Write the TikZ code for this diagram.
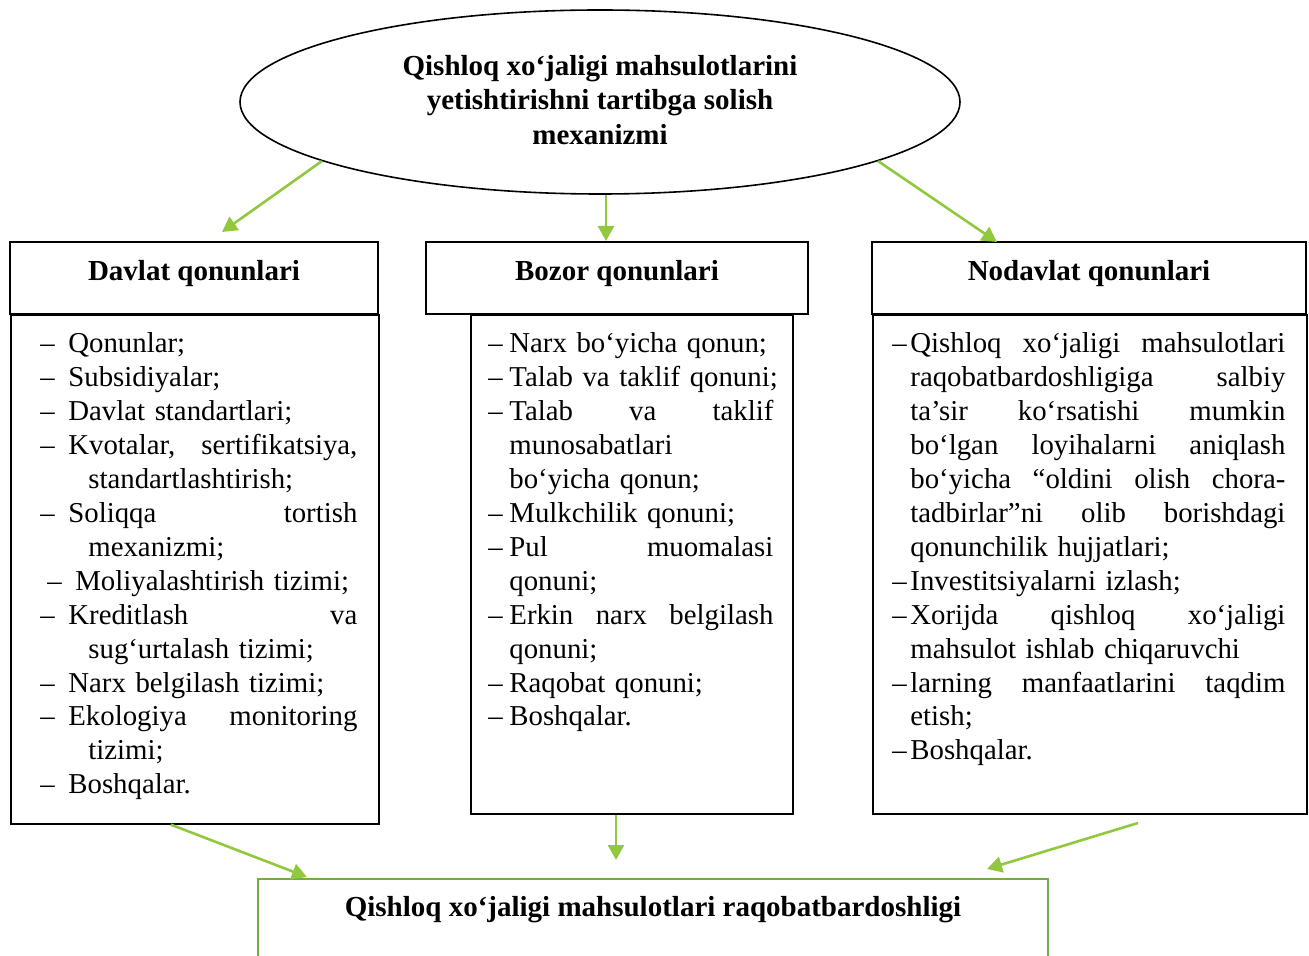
\documentclass[tikz,border=0pt]{standalone}
\usepackage{fontspec}
\setmainfont{Liberation Serif}
\usetikzlibrary{shapes.geometric,arrows.meta}
\definecolor{arrgreen}{RGB}{146,200,62}
\definecolor{boxgreen}{RGB}{112,173,71}
\newlength{\dashw}
\newlength{\hangw}
\newcommand{\dsh}{\makebox[\dashw][l]{–}}
\newcommand{\hg}{\hspace*{\hangw}}
\newcommand{\jl}[1]{{\spaceskip=0pt\xspaceskip=0pt\makebox[\linewidth][s]{#1}}}
\newcommand{\pl}[1]{\makebox[\linewidth][l]{#1}}

\begin{document}
\begin{tikzpicture}[x=0.5pt,y=-0.5pt,
  every node/.style={font=\fontsize{14.4}{16.95}\selectfont},
  arr/.style={draw=arrgreen, line width=1.3pt, -{Triangle[length=7.5pt,width=8pt]}},
  ell/.style={draw, ellipse, line width=0.8pt, minimum width=360pt, minimum height=92pt, inner sep=0pt},
  ttl/.style={align=center, inner sep=0pt, font=\bfseries\fontsize{14.5}{17.1}\selectfont},
  head/.style={draw, line width=0.8pt, minimum height=36pt, text height=10pt, text depth=7pt, inner ysep=0pt, font=\bfseries\fontsize{14.5}{16.95}\selectfont},
  body/.style={draw, line width=0.8pt, inner sep=0pt, anchor=north west},
  list/.style={align=left, inner sep=0pt, anchor=base west},
  resbox/.style={draw=boxgreen, line width=1.2pt, anchor=north, text height=10pt, text depth=45pt, inner ysep=8.5pt, font=\bfseries\fontsize{14.5}{16.95}\selectfont}]
\useasboundingbox (0,0) rectangle (1309,956);

\node[ell] (ell) at (600,102) {};
\node[ttl] (elltxt) at (600,100) {Qishloq xo‘jaligi mahsulotlarini\\yetishtirishni tartibga solish\\mexanizmi};

\node[head, minimum width=184pt] (dhead) at (194,278) {Davlat qonunlari};
\node[head, minimum width=191pt] (bhead) at (617,278) {Bozor qonunlari};
\node[head, minimum width=217pt] (nhead) at (1089,278) {Nodavlat qonunlari};

\node[body, minimum width=184pt, minimum height=254.5pt] (dbody) at (10,314) {};
\node[body, minimum width=161pt, minimum height=249.5pt] (bbody) at (470,314) {};
\node[body, minimum width=217pt, minimum height=249.5pt] (nbody) at (872,314) {};

\node[list, text width=158.5pt] (dlist) at (40,353) {%
\setlength{\dashw}{14pt}\setlength{\hangw}{24pt}%
\pl{\dsh Qonunlar;}\\
\pl{\dsh Subsidiyalar;}\\
\pl{\dsh Davlat standartlari;}\\
\jl{\dsh Kvotalar, sertifikatsiya,}\\
\pl{\hg standartlashtirish;}\\
\jl{\dsh Soliqqa tortish}\\
\pl{\hg mexanizmi;}\\
\pl{\hspace*{3.5pt}\dsh Moliyalashtirish tizimi;}\\
\jl{\dsh Kreditlash va}\\
\pl{\hg sug‘urtalash tizimi;}\\
\pl{\dsh Narx belgilash tizimi;}\\
\jl{\dsh Ekologiya monitoring}\\
\pl{\hg tizimi;}\\
\pl{\dsh Boshqalar.}};

\node[list, text width=142.5pt] (blist) at (488,353) {%
\setlength{\dashw}{10.5pt}\setlength{\hangw}{10.5pt}%
\pl{\dsh Narx bo‘yicha qonun;}\\
\pl{\dsh Talab va taklif qonuni;}\\
\jl{\dsh Talab va taklif}\\
\pl{\hg munosabatlari}\\
\pl{\hg bo‘yicha qonun;}\\
\pl{\dsh Mulkchilik qonuni;}\\
\jl{\dsh Pul muomalasi}\\
\pl{\hg qonuni;}\\
\jl{\dsh Erkin narx belgilash}\\
\pl{\hg qonuni;}\\
\pl{\dsh Raqobat qonuni;}\\
\pl{\dsh Boshqalar.}};

\node[list, text width=196.5pt] (nlist) at (892,353) {%
\setlength{\dashw}{9pt}\setlength{\hangw}{9pt}%
\jl{\dsh Qishloq xo‘jaligi mahsulotlari}\\
\jl{\hg raqobatbardoshligiga salbiy}\\
\jl{\hg ta’sir ko‘rsatishi mumkin}\\
\jl{\hg bo‘lgan loyihalarni aniqlash}\\
\jl{\hg bo‘yicha “oldini olish chora-}\\
\jl{\hg tadbirlar”ni olib borishdagi}\\
\pl{\hg qonunchilik hujjatlari;}\\
\pl{\dsh Investitsiyalarni izlash;}\\
\jl{\dsh Xorijda qishloq xo‘jaligi}\\
\pl{\hg mahsulot ishlab chiqaruvchi}\\
\jl{\dsh larning manfaatlarini taqdim}\\
\pl{\hg etish;}\\
\pl{\dsh Boshqalar.}};

\node[resbox, minimum width=395pt] (res) at (653,878) {Qishloq xo‘jaligi mahsulotlari raqobatbardoshligi};

\coordinate (dtip) at (222,232);
\coordinate (btip) at (606,241);
\coordinate (ntip) at (997,242);
\coordinate (rleft) at (307,877);
\coordinate (rmid) at (616,860);
\coordinate (nfrom) at (1138,823);
\coordinate (rright) at (987,869);

\draw[arr] (ell.192) -- (dtip);
\draw[arr] (ell.south -| btip) -- (btip);
\draw[arr] (ell.348) -- (ntip);
\draw[arr] ([xshift=-12pt]dbody.south) -- (rleft);
\draw[arr] (bbody.south -| rmid) -- (rmid);
\draw[arr] (nfrom) -- (rright);
\end{tikzpicture}
\end{document}
